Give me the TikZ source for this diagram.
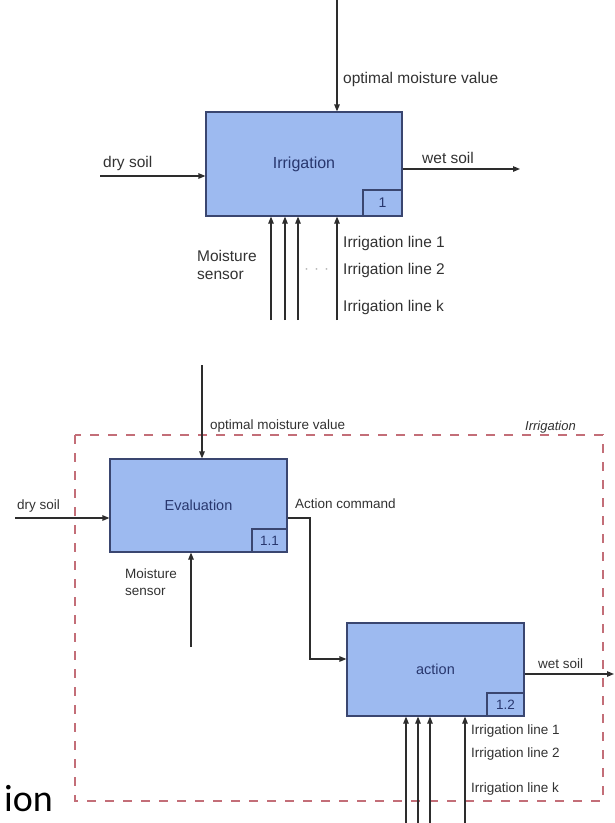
\documentclass[tikz,border=0pt]{standalone}
\usepackage{fontspec}
\setmainfont{Liberation Sans}
\newfontfamily\carlito{Carlito}
\usetikzlibrary{arrows.meta}
\definecolor{boxfill}{RGB}{157,186,240}
\definecolor{boxline}{RGB}{58,70,112}
\definecolor{boxtext}{RGB}{40,55,110}
\definecolor{linec}{RGB}{45,45,45}
\definecolor{labc}{RGB}{50,50,50}
\definecolor{dashc}{RGB}{195,110,120}
\begin{document}
\begin{tikzpicture}[x=1pt,y=-1pt,
  func/.style={draw=boxline, fill=boxfill, line width=1.2pt, inner sep=0pt, text=boxtext},
  numbox/.style={draw=boxline, fill=boxfill, line width=1.2pt, inner sep=0pt, text=boxtext, anchor=south east},
  flow/.style={draw=linec, line width=1.2pt, -{Triangle[length=7pt,width=5.5pt]}},
  labA/.style={anchor=base west, inner sep=0pt, text=labc, font=\fontsize{15.5}{18}\selectfont},
  labB/.style={anchor=base west, inner sep=0pt, text=labc, font=\fontsize{13.5}{16}\selectfont},
  frame/.style={draw=dashc, line width=1.1pt, dash pattern=on 9pt off 9pt}
]
\useasboundingbox (0,0) rectangle (615,823);

% ---------- top diagram ----------
\node[func, minimum width=196pt, minimum height=104pt, font=\fontsize{16}{18}\selectfont] (irr) at (304,164) {Irrigation};
\node[numbox, minimum width=39pt, minimum height=26pt, font=\fontsize{14}{16}\selectfont] (n1) at (irr.south east) {1};

\coordinate (opt) at (337,0);
\draw[flow] (opt) -- (opt |- irr.north);
\node[labA] (optl) at (343,83) {optimal moisture value};

\coordinate (dry) at (100,176);
\draw[flow] (dry) -- (dry -| irr.west);
\node[labA] (dryl) at (103,167) {dry soil};

\coordinate (wet) at (520,169);
\draw[flow] (irr.east |- wet) -- (wet);
\node[labA] (wetl) at (422,163) {wet soil};

\coordinate (m1) at (271,320);
\coordinate (m2) at (285,320);
\coordinate (m3) at (298,320);
\coordinate (m4) at (337,320);
\foreach \c in {m1,m2,m3,m4} \draw[flow] (\c) -- (\c |- irr.south);

\node[labA] (ms1) at (197,261) {Moisture};
\node[labA] (ms2) at (197,279) {sensor};
\node[labA] (il1) at (343,247) {Irrigation line 1};
\node[labA] (il2) at (343,274) {Irrigation line 2};
\node[labA] (ilk) at (343,311) {Irrigation line k};
\node[anchor=base west, inner sep=0pt, text=black!30, font=\fontsize{15}{18}\selectfont] (dots) at (304,273) {·\,\,·\,\,·};

% ---------- bottom diagram ----------
\draw[frame] (75,435) rectangle (603,801);
\node[labB, font=\itshape\fontsize{13}{16}\selectfont] (frl) at (525,430) {Irrigation};

\node[func, minimum width=177pt, minimum height=93pt, font=\fontsize{14.5}{16}\selectfont] (eval) at (198.5,505.5) {Evaluation};
\node[numbox, minimum width=35pt, minimum height=23pt, font=\fontsize{13.5}{16}\selectfont] (n11) at (eval.south east) {1.1};

\node[func, minimum width=177pt, minimum height=93pt, font=\fontsize{14.5}{16}\selectfont] (act) at (435.5,669.5) {action};
\node[numbox, minimum width=37pt, minimum height=23pt, font=\fontsize{13.5}{16}\selectfont] (n12) at (act.south east) {1.2};

\coordinate (evtop) at (202,365);
\draw[flow] (evtop) -- (evtop |- eval.north);
\node[labB] (optl2) at (210,429) {optimal moisture value};

\coordinate (dry2) at (15,518);
\draw[flow] (dry2) -- (dry2 -| eval.west);
\node[labB] (dryl2) at (17,509) {dry soil};

\coordinate (ms) at (191,647);
\draw[flow] (ms) -- (ms |- eval.south);
\node[labB] (msl1) at (125,578) {Moisture};
\node[labB] (msl2) at (125,595) {sensor};

\coordinate (bend) at (310,659);
\draw[flow] (eval.east |- dry2) -| (bend) -- (bend -| act.west);
\node[labB] (acl) at (295,508) {Action command};

\coordinate (wet2) at (614,674);
\draw[flow] (act.east |- wet2) -- (wet2);
\node[labB] (wetl2) at (538,668) {wet soil};

\coordinate (a1) at (406,823);
\coordinate (a2) at (418,823);
\coordinate (a3) at (430,823);
\coordinate (a4) at (465,823);
\foreach \c in {a1,a2,a3,a4} \draw[flow] (\c) -- (\c |- act.south);

\node[labB] (al1) at (471,734) {Irrigation line 1};
\node[labB] (al2) at (471,757) {Irrigation line 2};
\node[labB] (alk) at (471,792) {Irrigation line k};

\node[anchor=base west, inner sep=0pt, font=\carlito\fontsize{38}{38}\selectfont] (ion) at (4,811) {ion};
\end{tikzpicture}
\end{document}
